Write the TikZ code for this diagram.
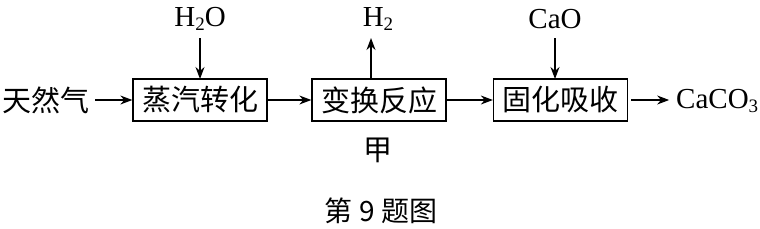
\documentclass[tikz,border=0pt]{standalone}
\usepackage{fontspec}
\setmainfont{Liberation Serif}
\newfontfamily\cjk{Noto Sans CJK SC}
\usetikzlibrary{arrows.meta}
\newcommand{\sbs}[1]{\lower0.35ex\hbox{\fontsize{19}{19}\selectfont #1}}
\begin{document}
\begin{tikzpicture}[x=1pt,y=-1pt,
  procbox/.style={draw,line width=1.3pt,minimum width=134pt,minimum height=42pt,inner sep=0pt,font=\cjk\fontsize{29}{29}\selectfont},
  cjklabel/.style={inner sep=0pt,font=\cjk\fontsize{29}{29}\selectfont},
  chemlabel/.style={inner sep=0pt,font=\fontsize{29}{29}\selectfont},
  flow/.style={line width=1.3pt,-{Stealth[length=12pt,width=9pt]}}]
\useasboundingbox (0,0) rectangle (760,228);
\node[procbox] (b1) at (200,100) {蒸汽转化};
\node[procbox] (b2) at (379,100) {变换反应};
\node[procbox] (b3) at (560.5,100) {固化吸收};
\node[cjklabel,anchor=west] (gas) at (2,100) {天然气};
\node[chemlabel,anchor=west] (caco3) at (676,101) {CaCO\sbs{3}};
\node[chemlabel] (h2o) at (200,19) {H\sbs{2}O};
\node[chemlabel] (h2) at (378,19) {H\sbs{2}};
\node[chemlabel] (cao) at (555,19) {CaO};
\node[cjklabel] (jia) at (378,150) {甲};
\node[cjklabel,font=\cjk\fontsize{28}{28}\selectfont] (cap) at (381,211) {第 9 题图};
\coordinate (h2otip) at (200,79);
\coordinate (h2otop) at (200,38);
\coordinate (h2bot) at (371,79);
\coordinate (h2top) at (371,38);
\coordinate (caotip) at (555,79);
\coordinate (caotop) at (555,38);
\draw[flow] (gas.east) ++(6,0) -- (b1.west);
\draw[flow] (b1.east) -- (b2.west);
\draw[flow] (b2.east) -- (b3.west);
\draw[flow] (b3.east) ++(3,0) -- ++(38,0);
\draw[flow] (h2otop) -- (h2otip);
\draw[flow] (h2bot) -- (h2top);
\draw[flow] (caotop) -- (caotip);
\end{tikzpicture}
\end{document}
